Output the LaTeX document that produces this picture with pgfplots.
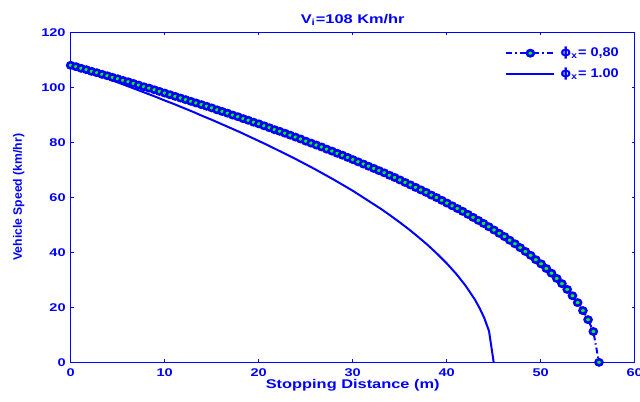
\documentclass[border=0pt]{standalone}
\usepackage{pgfplots}
\pgfplotsset{compat=1.18}
\usepackage{fontspec}
\setmainfont{Liberation Sans}
\newfontfamily\hfont[FakeStretch=1.3]{Liberation Sans}
\newfontfamily\lfont[FakeStretch=1.15]{Liberation Sans}
\newfontfamily\dvfont[FakeStretch=1.1]{DejaVu Sans}
\definecolor{mblue}{rgb}{0,0,1}
\definecolor{mgreen}{rgb}{0,1,0}
\begin{document}
\begin{tikzpicture}
\begin{axis}[
  scale only axis, width=282pt, height=165pt,
  xmin=0, xmax=60, ymin=0, ymax=120,
  xtick={0,10,...,60}, ytick={0,20,...,120},
  tick align=inside, major tick length=1.5pt,
  axis line style={mblue, line width=0.65pt},
  major tick style={mblue, line width=0.6pt},
  /pgf/number format/assume math mode=true,
  ticklabel style={text=mblue, font=\hfont\bfseries\fontsize{5.6}{6.5}\selectfont},
  xticklabel style={anchor=base, yshift=-7.1pt, inner sep=0pt},
  yticklabel style={anchor=east, xshift=-2.35pt, inner sep=0pt},
  every axis title/.style={at={(axis description cs:0.5,1)}, anchor=base, yshift=4.4pt, text=mblue, font=\hfont\bfseries\fontsize{6.3}{7}\selectfont},
  title={V\textsubscript{i}=108 Km/hr},
  every axis x label/.style={at={(axis description cs:0.5,0)}, anchor=base, yshift=-12.9pt, text=mblue, font=\hfont\bfseries\fontsize{6.3}{7}\selectfont},
  xlabel={Stopping Distance (m)},
  every axis y label/.style={at={(axis description cs:-0.0922,0.5)}, anchor=center, rotate=90, text=mblue, font=\bfseries\fontsize{6.1}{7}\selectfont},
  ylabel={Vehicle Speed (km/hr)},
  legend style={at={(axis description cs:0.770,0.9055)}, anchor=west, draw=none, fill=none, inner sep=0pt,
    row sep=4pt, text=mblue, font=\lfont\bfseries\fontsize{6.3}{7}\selectfont,
    nodes={inner sep=0pt},
    /tikz/every odd column/.append style={column sep=2.5pt}},
  legend cell align=left,
  legend image code/.code={\draw[mark repeat=2,mark phase=2,#1] plot coordinates {(0pt,0pt) (12pt,0pt) (24pt,0pt)};},
]
\addplot[mblue, line width=1pt, forget plot] coordinates {
(0,108) (1,106.8) (2,105.6) (3,104.3) (4,103.1) (5,101.8) (6,100.5) (7,99.2) (8,97.9) (9,96.6) (10,95.2) (11,93.9) (12,92.5) (13,91.1) (14,89.6) (15,88.2) (16,86.7) (17,85.2) (18,83.7) (19,82.1) (20,80.5) (21,78.9) (22,77.2) (23,75.5) (24,73.8) (25,72.0) (26,70.2) (27,68.3) (28,66.4) (29,64.4) (30,62.4) (31,60.2) (32,58.0) (33,55.8) (34,53.4) (35,50.9) (36,48.3) (37,45.5) (38,42.6) (39,39.4) (40,36.0) (41,32.2) (42,27.9) (43,22.8) (43.5,19.7) (44,16.1) (44.5,11.4) (45,0)
};
\addplot[mblue, line width=1pt, dash pattern=on 3pt off 1.5pt on 0.7pt off 1.5pt,
  mark=*, mark size=1.55pt, mark options={solid, draw=mblue, fill=mgreen, line width=1.3pt, xscale=1.12}] coordinates {
(0,108.0) (0.56,107.5) (1.11,106.9) (1.67,106.4) (2.22,105.8) (2.78,105.3) (3.34,104.7) (3.89,104.2) (4.45,103.6) (5.00,103.1) (5.56,102.5) (6.12,102.0) (6.67,101.4) (7.23,100.8) (7.78,100.2) (8.34,99.7) (8.90,99.1) (9.45,98.5) (10.01,97.9) (10.56,97.3) (11.12,96.7) (11.68,96.1) (12.23,95.5) (12.79,94.9) (13.34,94.3) (13.90,93.7) (14.46,93.1) (15.01,92.5) (15.57,91.8) (16.12,91.2) (16.68,90.6) (17.24,89.9) (17.79,89.3) (18.35,88.6) (18.90,88.0) (19.46,87.3) (20.02,86.7) (20.57,86.0) (21.13,85.3) (21.68,84.6) (22.24,84.0) (22.80,83.3) (23.35,82.6) (23.91,81.9) (24.46,81.2) (25.02,80.4) (25.58,79.7) (26.13,79.0) (26.69,78.3) (27.24,77.5) (27.80,76.8) (28.36,76.0) (28.91,75.3) (29.47,74.5) (30.02,73.7) (30.58,72.9) (31.14,72.1) (31.69,71.3) (32.25,70.5) (32.80,69.7) (33.36,68.9) (33.92,68.0) (34.47,67.2) (35.03,66.3) (35.58,65.4) (36.14,64.5) (36.70,63.6) (37.25,62.7) (37.81,61.8) (38.36,60.8) (38.92,59.9) (39.48,58.9) (40.03,57.9) (40.59,56.9) (41.14,55.9) (41.70,54.9) (42.26,53.8) (42.81,52.7) (43.37,51.6) (43.92,50.5) (44.48,49.3) (45.04,48.1) (45.59,46.9) (46.15,45.7) (46.70,44.4) (47.26,43.1) (47.82,41.7) (48.37,40.3) (48.93,38.9) (49.48,37.3) (50.04,35.8) (50.60,34.1) (51.15,32.4) (51.71,30.5) (52.26,28.6) (52.82,26.5) (53.38,24.2) (53.93,21.7) (54.49,18.8) (55.04,15.5) (55.60,11.2) (56.20,0)
};
\addlegendentry{{\dvfont\bfseries ϕ}\textsubscript{x}= 0,80}
\addlegendimage{mblue, line width=1pt}
\addlegendentry{{\dvfont\bfseries ϕ}\textsubscript{x}= 1.00}
\end{axis}
\pgfresetboundingbox
\useasboundingbox (-35.35pt,-19.35pt) rectangle (284.65pt,181.15pt);
\end{tikzpicture}
\end{document}
